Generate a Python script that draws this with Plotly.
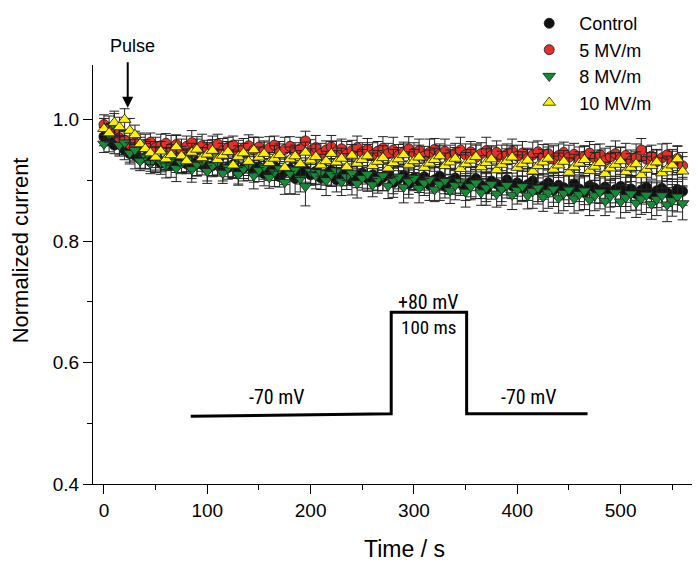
import plotly.graph_objects as go

# ---------------- data ----------------
time_s = list(range(0, 565, 5))

control = [0.972, 0.965, 0.958, 0.960, 0.950, 0.944, 0.941, 0.935, 0.938, 0.931, 0.934,
           0.928, 0.933, 0.925, 0.930, 0.936, 0.927, 0.922, 0.931, 0.926, 0.919,
           0.924, 0.929, 0.917, 0.921, 0.926, 0.913, 0.920, 0.925, 0.915, 0.922,
           0.911, 0.918, 0.923, 0.906, 0.914, 0.919, 0.903, 0.912, 0.917, 0.909,
           0.915, 0.904, 0.910, 0.916, 0.901, 0.908, 0.913, 0.899, 0.907, 0.912,
           0.903, 0.909, 0.898, 0.905, 0.911, 0.896, 0.902, 0.908, 0.894, 0.904,
           0.899, 0.906, 0.893, 0.901, 0.907, 0.890, 0.898, 0.904, 0.895, 0.889,
           0.897, 0.903, 0.892, 0.886, 0.899, 0.894, 0.888, 0.901, 0.891, 0.896,
           0.887, 0.893, 0.899, 0.885, 0.890, 0.896, 0.884, 0.892, 0.888, 0.882,
           0.894, 0.886, 0.880, 0.891, 0.887, 0.883, 0.889, 0.879, 0.885, 0.890,
           0.881, 0.886, 0.878, 0.884, 0.889, 0.877, 0.883, 0.887, 0.880, 0.876, 0.885, 0.882]
control_err = [0.015, 0.018, 0.014, 0.020, 0.016, 0.017, 0.022, 0.015, 0.019, 0.016, 0.021,
               0.018, 0.015, 0.020, 0.017, 0.023, 0.016, 0.019, 0.024, 0.017, 0.020,
               0.016, 0.022, 0.018, 0.015, 0.021, 0.019, 0.017, 0.025, 0.018, 0.016,
               0.020, 0.018, 0.023, 0.017, 0.021, 0.019, 0.026, 0.018, 0.020, 0.017,
               0.022, 0.019, 0.018, 0.024, 0.020, 0.017, 0.021, 0.023, 0.019, 0.018,
               0.021, 0.025, 0.019, 0.022, 0.018, 0.024, 0.020, 0.019, 0.023, 0.021,
               0.019, 0.022, 0.026, 0.020, 0.023, 0.019, 0.021, 0.025, 0.020, 0.022,
               0.024, 0.020, 0.022, 0.027, 0.021, 0.019, 0.023, 0.025, 0.021, 0.022,
               0.020, 0.026, 0.022, 0.024, 0.021, 0.023, 0.027, 0.022, 0.020, 0.025,
               0.023, 0.021, 0.028, 0.022, 0.024, 0.021, 0.026, 0.023, 0.022, 0.025,
               0.024, 0.022, 0.027, 0.023, 0.025, 0.022, 0.028, 0.024, 0.023, 0.026, 0.025, 0.023]

mv5 = [0.992, 0.986, 0.978, 0.970, 0.966, 0.959, 0.962, 0.955, 0.958, 0.963, 0.954,
       0.957, 0.961, 0.953, 0.959, 0.950, 0.956, 0.962, 0.952, 0.957, 0.951,
       0.955, 0.960, 0.949, 0.954, 0.958, 0.947, 0.953, 0.957, 0.950, 0.955,
       0.948, 0.953, 0.958, 0.946, 0.951, 0.956, 0.945, 0.952, 0.965, 0.949,
       0.954, 0.944, 0.950, 0.955, 0.947, 0.952, 0.943, 0.949, 0.954, 0.946,
       0.951, 0.942, 0.948, 0.953, 0.944, 0.950, 0.941, 0.947, 0.952, 0.945,
       0.949, 0.940, 0.946, 0.951, 0.943, 0.948, 0.939, 0.945, 0.950, 0.942,
       0.947, 0.938, 0.944, 0.949, 0.941, 0.946, 0.937, 0.943, 0.948, 0.940,
       0.945, 0.936, 0.942, 0.947, 0.939, 0.944, 0.935, 0.941, 0.946, 0.938,
       0.943, 0.934, 0.940, 0.945, 0.937, 0.942, 0.933, 0.939, 0.944, 0.936,
       0.941, 0.932, 0.938, 0.950, 0.935, 0.940, 0.931, 0.937, 0.942, 0.930, 0.936, 0.924]
mv5_err = [0.016, 0.020, 0.015, 0.018, 0.017, 0.014, 0.019, 0.016, 0.018, 0.015, 0.017,
           0.019, 0.016, 0.021, 0.015, 0.018, 0.017, 0.020, 0.016, 0.019, 0.015,
           0.018, 0.016, 0.020, 0.017, 0.015, 0.019, 0.016, 0.018, 0.021, 0.016,
           0.017, 0.019, 0.015, 0.018, 0.020, 0.016, 0.017, 0.019, 0.016, 0.018,
           0.020, 0.017, 0.015, 0.019, 0.018, 0.016, 0.021, 0.017, 0.019, 0.016,
           0.018, 0.020, 0.016, 0.019, 0.017, 0.021, 0.018, 0.016, 0.020, 0.017,
           0.019, 0.016, 0.022, 0.018, 0.017, 0.020, 0.019, 0.016, 0.021, 0.018,
           0.017, 0.020, 0.018, 0.022, 0.016, 0.019, 0.021, 0.017, 0.020, 0.018,
           0.019, 0.017, 0.021, 0.018, 0.020, 0.016, 0.022, 0.019, 0.017, 0.020,
           0.018, 0.021, 0.017, 0.019, 0.022, 0.018, 0.020, 0.017, 0.021, 0.019,
           0.020, 0.018, 0.022, 0.019, 0.021, 0.018, 0.020, 0.023, 0.019, 0.021, 0.020, 0.022]

mv8 = [0.960, 0.975, 0.990, 0.958, 0.962, 0.945, 0.950, 0.932, 0.940, 0.928, 0.936,
       0.930, 0.924, 0.935, 0.920, 0.928, 0.933, 0.918, 0.926, 0.931, 0.915,
       0.924, 0.930, 0.912, 0.921, 0.927, 0.910, 0.919, 0.925, 0.908, 0.917,
       0.923, 0.905, 0.914, 0.920, 0.897, 0.912, 0.918, 0.903, 0.890, 0.915,
       0.908, 0.913, 0.900, 0.910, 0.916, 0.898, 0.906, 0.912, 0.895, 0.904,
       0.910, 0.893, 0.902, 0.908, 0.891, 0.900, 0.906, 0.889, 0.898, 0.904,
       0.887, 0.896, 0.902, 0.885, 0.894, 0.900, 0.883, 0.892, 0.898, 0.881,
       0.890, 0.896, 0.880, 0.888, 0.894, 0.878, 0.886, 0.892, 0.876, 0.884,
       0.890, 0.875, 0.882, 0.888, 0.873, 0.880, 0.886, 0.871, 0.879, 0.885,
       0.870, 0.877, 0.883, 0.868, 0.875, 0.881, 0.866, 0.874, 0.880, 0.865,
       0.872, 0.878, 0.863, 0.870, 0.876, 0.861, 0.869, 0.875, 0.860, 0.867, 0.873, 0.862]
mv8_err = [0.014, 0.017, 0.020, 0.016, 0.019, 0.015, 0.018, 0.016, 0.021, 0.017, 0.019,
           0.016, 0.020, 0.018, 0.022, 0.017, 0.019, 0.021, 0.018, 0.016, 0.020,
           0.018, 0.021, 0.017, 0.019, 0.023, 0.018, 0.020, 0.017, 0.022, 0.019,
           0.021, 0.018, 0.024, 0.019, 0.020, 0.034, 0.019, 0.022, 0.032, 0.020,
           0.022, 0.019, 0.025, 0.020, 0.018, 0.023, 0.021, 0.019, 0.024, 0.020,
           0.023, 0.020, 0.019, 0.025, 0.021, 0.022, 0.020, 0.026, 0.021, 0.019,
           0.024, 0.021, 0.023, 0.020, 0.027, 0.022, 0.021, 0.024, 0.020, 0.025,
           0.022, 0.026, 0.021, 0.023, 0.025, 0.022, 0.027, 0.021, 0.024, 0.023,
           0.025, 0.022, 0.028, 0.023, 0.024, 0.026, 0.022, 0.025, 0.029, 0.023,
           0.024, 0.027, 0.023, 0.026, 0.025, 0.028, 0.024, 0.026, 0.023, 0.027,
           0.025, 0.028, 0.024, 0.026, 0.029, 0.025, 0.027, 0.024, 0.028, 0.026, 0.025, 0.027]

mv10 = [0.985, 0.978, 0.995, 0.988, 1.000, 0.982, 0.975, 0.960, 0.952, 0.945, 0.938,
        0.948, 0.935, 0.942, 0.955, 0.940, 0.932, 0.946, 0.951, 0.937, 0.943,
        0.949, 0.934, 0.941, 0.947, 0.925, 0.939, 0.945, 0.931, 0.950, 0.938,
        0.944, 0.929, 0.936, 0.942, 0.921, 0.935, 0.940, 0.927, 0.946, 0.933,
        0.939, 0.925, 0.932, 0.944, 0.930, 0.936, 0.922, 0.941, 0.928, 0.934,
        0.940, 0.924, 0.931, 0.937, 0.920, 0.929, 0.935, 0.942, 0.926, 0.932,
        0.938, 0.921, 0.928, 0.934, 0.940, 0.924, 0.930, 0.936, 0.919, 0.927,
        0.933, 0.939, 0.922, 0.929, 0.935, 0.917, 0.926, 0.932, 0.938, 0.921,
        0.927, 0.933, 0.915, 0.924, 0.930, 0.936, 0.918, 0.925, 0.931, 0.913,
        0.922, 0.928, 0.934, 0.916, 0.923, 0.929, 0.911, 0.920, 0.926, 0.932,
        0.914, 0.921, 0.927, 0.909, 0.918, 0.924, 0.930, 0.912, 0.919, 0.925, 0.935, 0.915]
mv10_err = [0.017, 0.015, 0.019, 0.016, 0.018, 0.020, 0.016, 0.018, 0.015, 0.019, 0.017,
            0.016, 0.019, 0.017, 0.020, 0.016, 0.018, 0.015, 0.021, 0.017, 0.019,
            0.018, 0.016, 0.020, 0.017, 0.022, 0.018, 0.016, 0.019, 0.021, 0.017,
            0.019, 0.017, 0.021, 0.018, 0.016, 0.020, 0.018, 0.022, 0.017, 0.019,
            0.021, 0.018, 0.016, 0.020, 0.019, 0.017, 0.022, 0.018, 0.020, 0.017,
            0.019, 0.021, 0.018, 0.020, 0.017, 0.022, 0.019, 0.018, 0.021, 0.019,
            0.020, 0.018, 0.022, 0.019, 0.017, 0.021, 0.020, 0.018, 0.023, 0.019,
            0.018, 0.021, 0.019, 0.023, 0.020, 0.018, 0.022, 0.020, 0.019, 0.021,
            0.020, 0.018, 0.023, 0.020, 0.021, 0.019, 0.022, 0.020, 0.018, 0.024,
            0.021, 0.019, 0.022, 0.020, 0.023, 0.021, 0.019, 0.024, 0.020, 0.022,
            0.021, 0.023, 0.020, 0.024, 0.021, 0.022, 0.020, 0.025, 0.021, 0.023, 0.022, 0.024]

series_names = ["Control", "5 MV/m", "8 MV/m", "10 MV/m"]

# voltage protocol schematic (time, normalized-current units of the plot)
protocol_t = [84, 278, 278, 351, 351, 468]
protocol_v = [0.5115, 0.5155, 0.683, 0.683, 0.5155, 0.5155]

pulse_time = 23

# ---------------- figure ----------------
FONT = "Liberation Sans, Arial, sans-serif"
NARROW = "Liberation Sans Narrow, Roboto Condensed, Roboto, Arial Narrow, sans-serif"

styles = [
    dict(symbol="circle", color="#111111", size=10),
    dict(symbol="circle", color="#e2302a", size=10),
    dict(symbol="triangle-down", color="#178a38", size=11),
    dict(symbol="triangle-up", color="#fff200", size=11),
]
values = [control, mv5, mv8, mv10]
errors = [control_err, mv5_err, mv8_err, mv10_err]

fig = go.Figure()
for name, v, e, st in zip(series_names, values, errors, styles):
    fig.add_trace(go.Scatter(
        x=time_s, y=v, mode="markers", name=name,
        marker=dict(symbol=st["symbol"], color=st["color"], size=st["size"],
                    line=dict(color="#1a1a1a", width=0.8)),
        error_y=dict(type="data", array=e, visible=True, color="#222222",
                     thickness=1, width=5),
    ))

fig.add_trace(go.Scatter(
    x=protocol_t, y=protocol_v, mode="lines", showlegend=False, hoverinfo="skip",
    line=dict(color="black", width=3),
))

annotations = [
    dict(x=pulse_time, y=1.0197, xref="x", yref="y", ax=0, ay=-47, text="",
         showarrow=True, arrowhead=2, arrowsize=1.1, arrowwidth=2, arrowcolor="black"),
    dict(x=0.066, y=1.045, xref="paper", yref="paper", text="Pulse", showarrow=False,
         xanchor="center", yanchor="middle",
         font=dict(family=FONT, size=18, color="black")),
    dict(x=167.5, y=0.543, xref="x", yref="y", text="-70 mV", showarrow=False,
         font=dict(family=NARROW, size=20, color="black")),
    dict(x=411, y=0.543, xref="x", yref="y", text="-70 mV", showarrow=False,
         font=dict(family=NARROW, size=20, color="black")),
    dict(x=314, y=0.70, xref="x", yref="y", text="+80 mV", showarrow=False,
         font=dict(family=NARROW, size=20, color="black")),
    dict(x=314, y=0.658, xref="x", yref="y", text="100 ms", showarrow=False,
         font=dict(family=NARROW, size=19, color="black")),
    dict(x=-0.121, y=0.558, xref="paper", yref="paper", text="Normalized current",
         textangle=-90, showarrow=False, xanchor="center", yanchor="middle",
         font=dict(family=FONT, size=22, color="black")),
    dict(x=0.517, y=-0.155, xref="paper", yref="paper", text="Time / s",
         showarrow=False, xanchor="center", yanchor="middle",
         font=dict(family=FONT, size=23, color="black")),
]

# the page body adds an 8 px offset; the figure is sized so the plot lands
# where the reference has it inside the 700x566 window
fig.update_layout(
    width=692, height=558,
    margin=dict(l=85, r=5, t=57, b=82, autoexpand=False),
    paper_bgcolor="white", plot_bgcolor="white",
    font=dict(family=FONT, size=18, color="black"),
    showlegend=True,
    legend=dict(x=0.708, y=1.143, xanchor="left", yanchor="top",
                font=dict(family=FONT, size=18, color="black"),
                bgcolor="rgba(0,0,0,0)", tracegroupgap=0, itemwidth=50),
    annotations=annotations,
    xaxis=dict(range=[-10.6, 572], showgrid=False, zeroline=False, automargin=False,
               showline=True, linecolor="black", linewidth=1.3,
               tickmode="array", tickvals=[0, 100, 200, 300, 400, 500],
               ticks="outside", ticklen=9, tickwidth=1.2, tickcolor="black",
               tickfont=dict(family=FONT, size=19),
               minor=dict(tickvals=[50, 150, 250, 350, 450, 550], ticks="outside",
                          ticklen=5, tickwidth=1.2, tickcolor="black")),
    yaxis=dict(range=[0.4, 1.09], showgrid=False, zeroline=False, automargin=False,
               showline=True, linecolor="black", linewidth=1.3,
               tickmode="array", tickvals=[0.4, 0.6, 0.8, 1.0],
               ticktext=["0.4", "0.6", "0.8", "1.0"],
               ticks="outside", ticklen=9, tickwidth=1.2, tickcolor="black",
               tickfont=dict(family=FONT, size=19),
               minor=dict(tickvals=[0.5, 0.7, 0.9], ticks="outside",
                          ticklen=5, tickwidth=1.2, tickcolor="black")),
)

fig.write_html("out.html")
